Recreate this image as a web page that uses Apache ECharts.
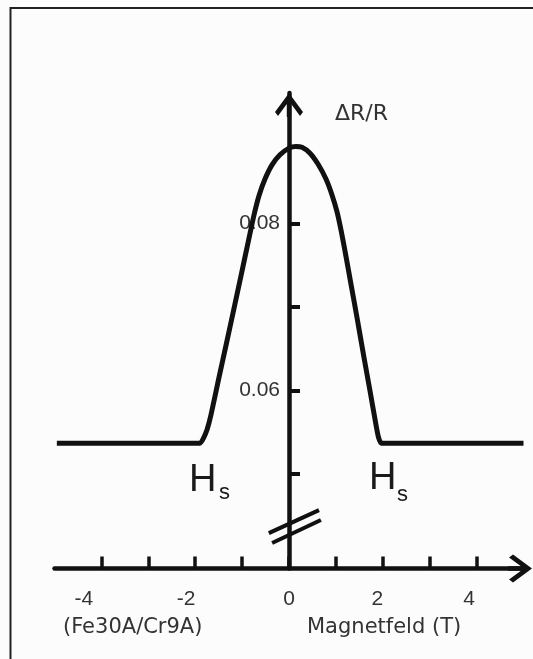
<!DOCTYPE html>
<html>
<head>
<meta charset="utf-8">
<title>Fe30A/Cr9A Magnetowiderstand</title>
<script src="https://cdn.jsdelivr.net/npm/echarts@6/dist/echarts.min.js"></script>
<style>
	html, body { margin: 0; padding: 0; background: #fcfcfc; }
	#chart { width: 533px; height: 659px; }
</style>
</head>
<body>
<div id="chart"></div>
<script>
var fieldValues = [-4.95, -1.898, -1.823, -1.748, -1.663, -1.503, -1.343, -1.181, -1.021, -0.861, -0.746, -0.640, -0.512, -0.362, -0.192, 0, 0.149,
	0.277, 0.448, 0.618, 0.789, 0.917, 1.023, 1.109, 1.194, 1.316, 1.454, 1.591, 1.729, 1.842, 1.908, 1.972, 5.0];
var ratioValues = [0.0537, 0.0537, 0.0543, 0.0553, 0.0571, 0.0613, 0.0654, 0.0696, 0.0738, 0.0780, 0.0810, 0.0833, 0.0853, 0.0870, 0.0882, 0.0890, 0.0892,
	0.0891, 0.0884, 0.0871, 0.0853, 0.0834, 0.0814, 0.0792, 0.0767, 0.0729, 0.0686, 0.0642, 0.0599, 0.0563, 0.0544, 0.0537, 0.0537];
var xTickValues = [-4, -3, -2, -1, 0, 1, 2, 3, 4];
var xLabelValues = [-4, -2, 0, 2, 4];
var yTickValues = [0.05, 0.06, 0.07, 0.08];
var yLabelValues = [0.06, 0.08];
// Achsenbruch (zwei schraege Striche)
var breakFieldValues = [[-0.43, 0.64], [-0.36, 0.68]];
var breakRatioValues = [[0.04294, 0.04569], [0.04175, 0.04450]];

var MagnetChart = {
	gridLeft: 54.5,
	gridRight: 9.5,
	xMin: -5,
	xMax: 5,
	// offene Pfeilspitze mit Schaft, zeigt nach oben
	arrowPath: 'path://M14,0 L28,19 L25,23 L14,8 L3,23 L0,19 Z M11.8,4 L16.2,4 L16.2,24 L11.8,24 Z',
	labelShift: { '-4': 35, '-2': 18, '0': 0, '2': 11, '4': 15 },

	init: function() {
		this.chart = echarts.init(document.getElementById('chart'));
		this.chart.setOption(this.buildOption());
	},
	//y-Achse auf Feld = 0 schieben
	yAxisOffset: function() {
		var width = 533 - this.gridLeft - this.gridRight;
		return -(0 - this.xMin) / (this.xMax - this.xMin) * width;
	},
	buildOption: function() {
		var self = this;
		var curve = [];
		for(var i = 0; i < fieldValues.length; i++) {
			curve.push([fieldValues[i], ratioValues[i]]);
		}
		var breaks = [];
		for(var j = 0; j < breakFieldValues.length; j++) {
			breaks.push({
				coords: [[breakFieldValues[j][0], breakRatioValues[j][0]], [breakFieldValues[j][1], breakRatioValues[j][1]]]
			});
		}
		var rich = {};
		for(var k in this.labelShift) {
			rich['s' + k.replace('-', 'm')] = {
				fontFamily: 'Liberation Sans',
				fontSize: 21,
				color: '#333',
				padding: [0, this.labelShift[k], 0, 0]
			};
		}
		var textFont = 'DejaVu Sans';
		return {
			backgroundColor: '#fcfcfc',
			animation: false,
			grid: { left: self.gridLeft, right: self.gridRight, top: 93, bottom: 90.5 },
			xAxis: {
				type: 'value',
				min: self.xMin,
				max: self.xMax,
				axisLine: {
					onZero: false,
					symbol: ['none', self.arrowPath],
					symbolSize: [28, 24],
					symbolOffset: [0, -3.5],
					lineStyle: { color: '#111', width: 4.5 }
				},
				axisTick: {
					inside: true,
					length: 12,
					customValues: xTickValues,
					lineStyle: { color: '#111', width: 3.5 }
				},
				axisLabel: {
					customValues: xLabelValues,
					margin: 20,
					formatter: function(v) {
						return '{s' + String(v).replace('-', 'm') + '|' + v + '}';
					},
					rich: rich
				},
				splitLine: { show: false }
			},
			yAxis: {
				type: 'value',
				min: 0.0387,
				max: 0.0956,
				offset: self.yAxisOffset(),
				axisLine: {
					onZero: false,
					symbol: ['none', self.arrowPath],
					symbolSize: [30, 24],
					symbolOffset: [0, -12],
					lineStyle: { color: '#111', width: 4.5 }
				},
				axisTick: {
					inside: true,
					length: 11,
					customValues: yTickValues,
					lineStyle: { color: '#111', width: 4 }
				},
				axisLabel: {
					customValues: yLabelValues,
					margin: 9,
					padding: [6, 0, 0, 0],
					fontFamily: 'Liberation Sans',
					fontSize: 21,
					color: '#333',
					formatter: function(v) {
						return v.toFixed(2);
					}
				},
				splitLine: { show: false }
			},
			series: [{
				name: 'ΔR/R',
				type: 'line',
				data: curve,
				showSymbol: false,
				smooth: 0.2,
				lineStyle: { color: '#111', width: 5, join: 'round' },
				z: 3
			}, {
				type: 'lines',
				coordinateSystem: 'cartesian2d',
				data: breaks,
				lineStyle: { color: '#111', width: 4, opacity: 1 },
				z: 4
			}],
			graphic: [{
				type: 'polyline',
				shape: { points: [[10.5, 659], [10.5, 8], [533, 8]] },
				style: { stroke: '#222', lineWidth: 2, fill: null },
				silent: true
			}, {
				type: 'text', x: 335, y: 114,
				style: { text: 'ΔR/R', font: '22px "' + textFont + '"', fill: '#333', verticalAlign: 'middle' }
			}, {
				type: 'text', x: 63, y: 627.5,
				style: { text: '(Fe30A/Cr9A)', font: '21px "' + textFont + '"', fill: '#333', verticalAlign: 'middle' }
			}, {
				type: 'text', x: 307, y: 627.5,
				style: { text: 'Magnetfeld (T)', font: '21px "' + textFont + '"', fill: '#333', verticalAlign: 'middle' }
			}, {
				type: 'text', x: 189, y: 480.5,
				style: { text: 'H', font: '38px "Liberation Sans"', fill: '#1a1a1a', verticalAlign: 'middle' }
			}, {
				type: 'text', x: 219, y: 493,
				style: { text: 's', font: '22px "Liberation Sans"', fill: '#1a1a1a', verticalAlign: 'middle' }
			}, {
				type: 'text', x: 369, y: 479,
				style: { text: 'H', font: '38px "Liberation Sans"', fill: '#1a1a1a', verticalAlign: 'middle' }
			}, {
				type: 'text', x: 397, y: 495,
				style: { text: 's', font: '22px "Liberation Sans"', fill: '#1a1a1a', verticalAlign: 'middle' }
			}]
		};
	}
};

MagnetChart.init();
</script>
</body>
</html>
